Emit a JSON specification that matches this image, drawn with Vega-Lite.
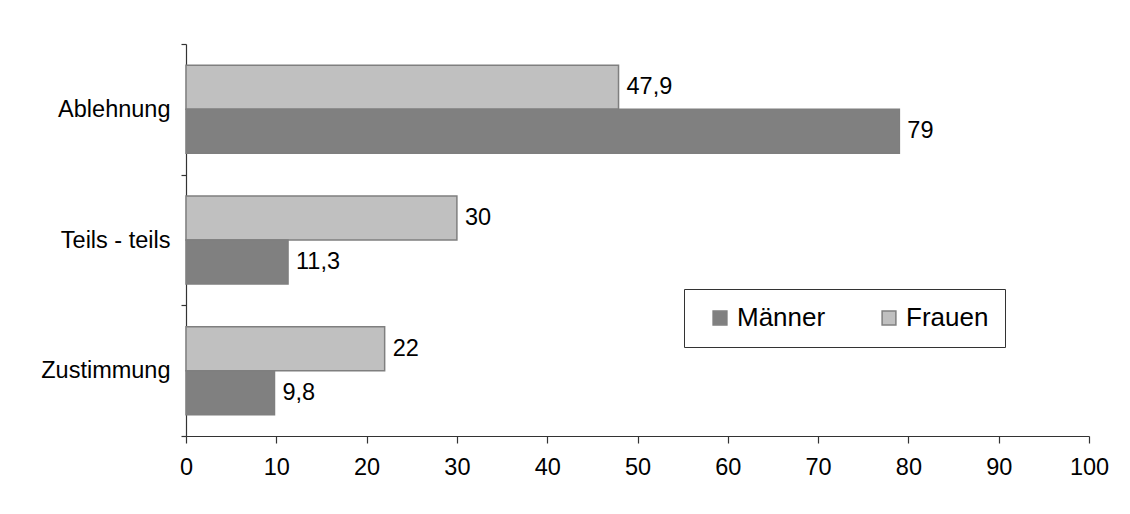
{
  "$schema": "https://vega.github.io/schema/vega-lite/v6.json",
  "width": 903,
  "height": 392,
  "autosize": {"type": "none"},
  "padding": {"left": 186, "top": 44, "right": 41, "bottom": 78},
  "background": "white",
  "config": {
    "locale": {"number": {"decimal": ",", "thousands": ".", "grouping": [3], "currency": ["", " €"]}},
    "font": "Liberation Sans",
    "view": {"stroke": null}
  },
  "data": {
    "values": [
      {"Kategorie": "Ablehnung", "Geschlecht": "Frauen", "Wert": 47.9},
      {"Kategorie": "Ablehnung", "Geschlecht": "Männer", "Wert": 79},
      {"Kategorie": "Teils - teils", "Geschlecht": "Frauen", "Wert": 30},
      {"Kategorie": "Teils - teils", "Geschlecht": "Männer", "Wert": 11.3},
      {"Kategorie": "Zustimmung", "Geschlecht": "Frauen", "Wert": 22},
      {"Kategorie": "Zustimmung", "Geschlecht": "Männer", "Wert": 9.8}
    ]
  },
  "encoding": {
    "y": {
      "field": "Kategorie", "type": "nominal",
      "sort": ["Ablehnung", "Teils - teils", "Zustimmung"],
      "scale": {"paddingInner": 0, "paddingOuter": 0},
      "axis": {
        "title": null, "tickBand": "extent", "tickSize": 5, "labelPadding": 11,
        "labelFontSize": 23.5, "labelColor": "black", "domainColor": "#333", "tickColor": "#333",
        "domainWidth": 1.2, "tickWidth": 1.2, "labelFont": "Liberation Sans"
      }
    },
    "yOffset": {"field": "Geschlecht", "type": "nominal", "scale": {"domain": ["Frauen", "Männer"], "paddingInner": 0, "paddingOuter": 0.485}},
    "x": {
      "field": "Wert", "type": "quantitative",
      "scale": {"domain": [0, 100], "nice": false},
      "axis": {
        "title": null, "values": [0, 10, 20, 30, 40, 50, 60, 70, 80, 90, 100], "grid": false,
        "tickSize": 7, "labelPadding": 12, "labelFontSize": 23.5, "labelColor": "black",
        "domainColor": "#333", "tickColor": "#333", "domainWidth": 1.2, "tickWidth": 1.2,
        "labelFont": "Liberation Sans", "labelFlush": false
      }
    }
  },
  "layer": [
    {
      "mark": {"type": "bar", "stroke": "#7f7f7f", "strokeWidth": 1.5},
      "encoding": {
        "color": {
          "field": "Geschlecht", "type": "nominal",
          "scale": {"domain": ["Männer", "Frauen"], "range": ["#808080", "#c0c0c0"]},
          "legend": {
            "title": null, "orient": "none", "legendX": 498, "legendY": 245,
            "direction": "horizontal", "strokeColor": "#333", "padding": 16,
            "symbolType": "square", "symbolSize": 190, "symbolStrokeColor": "#7f7f7f", "symbolStrokeWidth": 1.5,
            "labelFontSize": 26, "labelColor": "black", "labelFont": "Liberation Sans",
            "columnPadding": 43, "symbolOffset": 7, "labelOffset": 4
          }
        }
      }
    },
    {
      "mark": {"type": "text", "align": "left", "baseline": "middle", "dx": 8, "fontSize": 23.5, "color": "black", "font": "Liberation Sans"},
      "encoding": {
        "text": {"field": "Wert", "type": "quantitative", "format": ".1~f"}
      }
    }
  ]
}
